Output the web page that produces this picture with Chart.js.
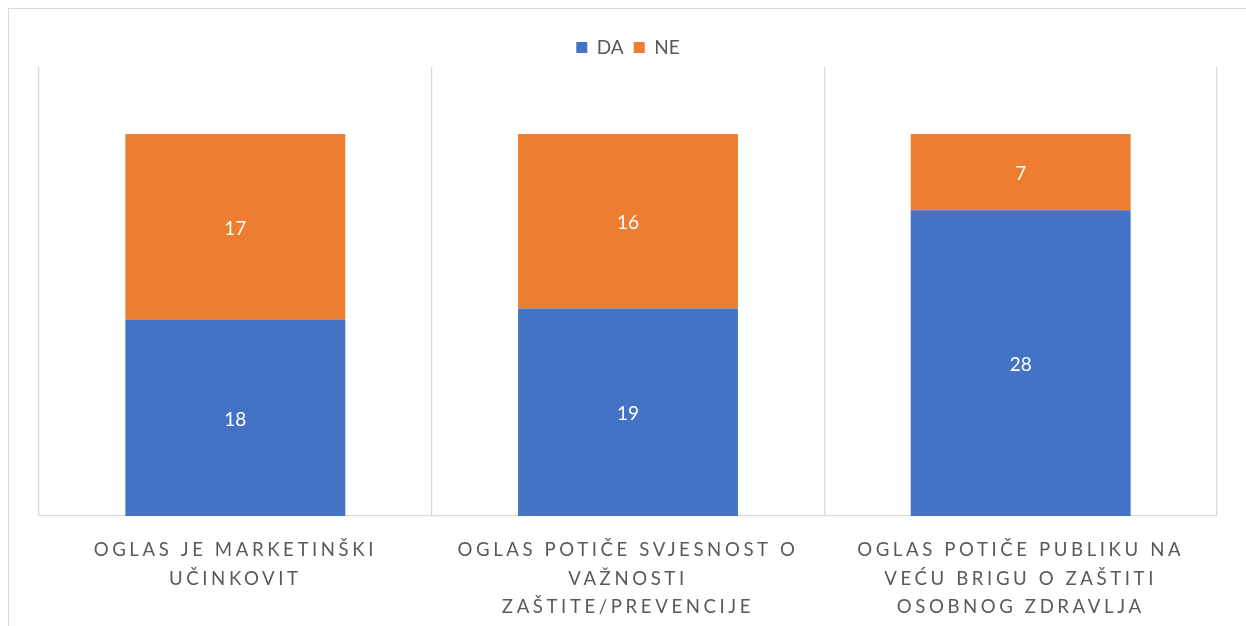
<!DOCTYPE html>
<html>
<head>
<meta charset="utf-8">
<script src="https://cdn.jsdelivr.net/npm/chart.js@4.4.1/dist/chart.umd.min.js"></script>
<style>
  html, body { margin: 0; padding: 0; background: #fff; }
  body { width: 1246px; height: 626px; position: relative; overflow: hidden; }
  #frame { position: absolute; left: 8px; top: 8px; width: 1400px; height: 800px; border: 1.5px solid #d9d9d9; box-sizing: border-box; }
  #c { position: absolute; left: 0; top: 0; }
</style>
</head>
<body>
<div id="frame"></div>
<canvas id="c" width="1246" height="626"></canvas>
<script>
const categories = [
  ["OGLAS JE MARKETINŠKI", "UČINKOVIT"],
  ["OGLAS POTIČE SVJESNOST O", "VAŽNOSTI", "ZAŠTITE/PREVENCIJE"],
  ["OGLAS POTIČE PUBLIKU NA", "VEĆU BRIGU O ZAŠTITI", "OSOBNOG ZDRAVLJA"]
];
const seriesNames = ["DA", "NE"];
const daValues = [18, 19, 28];
const neValues = [17, 16, 7];

const FONT = "Lato, 'Open Sans', sans-serif";

const valueLabels = {
  id: 'valueLabels',
  afterDatasetsDraw(chart) {
    const ctx = chart.ctx;
    ctx.save();
    ctx.fillStyle = '#ffffff';
    ctx.font = "19px " + FONT;
    ctx.textAlign = 'center';
    ctx.textBaseline = 'middle';
    chart.data.datasets.forEach((ds, di) => {
      const meta = chart.getDatasetMeta(di);
      meta.data.forEach((bar, i) => {
        const p = bar.getProps(['x', 'y', 'base'], true);
        ctx.fillText(String(ds.data[i]), p.x, (p.y + p.base) / 2 + 2);
      });
    });
    ctx.restore();
  }
};

const xLabels = {
  id: 'xLabels',
  afterDraw(chart) {
    const ctx = chart.ctx;
    const xs = chart.scales.x;
    ctx.save();
    ctx.fillStyle = '#595959';
    ctx.font = "18.6px " + FONT;
    ctx.textAlign = 'center';
    ctx.textBaseline = 'middle';
    ctx.letterSpacing = '3.6px';
    chart.data.labels.forEach((lines, i) => {
      const x = xs.getPixelForTick(i);
      lines.forEach((line, j) => {
        ctx.fillText(line, x, xs.top + 34 + j * 28.5);
      });
    });
    ctx.restore();
  }
};

new Chart(document.getElementById('c'), {
  type: 'bar',
  data: {
    labels: categories,
    datasets: [
      { label: seriesNames[0], data: daValues, backgroundColor: '#4472C4', borderWidth: 0 },
      { label: seriesNames[1], data: neValues, backgroundColor: '#ED7D31', borderWidth: 0 }
    ]
  },
  options: {
    responsive: false,
    animation: false,
    devicePixelRatio: 1,
    layout: { padding: { left: 39, right: 29, top: 28, bottom: 0 } },
    plugins: {
      legend: {
        position: 'top',
        labels: {
          boxWidth: 11, boxHeight: 11, padding: 10,
          color: '#595959',
          font: { size: 19, family: FONT }
        }
      },
      tooltip: { enabled: false }
    },
    datasets: { bar: { categoryPercentage: 1, barPercentage: 0.56 } },
    scales: {
      x: {
        stacked: true,
        offset: true,
        grid: { display: true, offset: true, color: '#d9d9d9', lineWidth: 1.3, drawTicks: false },
        border: { display: true, color: '#d9d9d9', width: 1.3 },
        ticks: { display: false },
        afterFit(scale) { scale.height = 110; }
      },
      y: {
        stacked: true,
        display: false,
        min: 0,
        max: 41.13
      }
    }
  },
  plugins: [valueLabels, xLabels]
});
</script>
</body>
</html>
